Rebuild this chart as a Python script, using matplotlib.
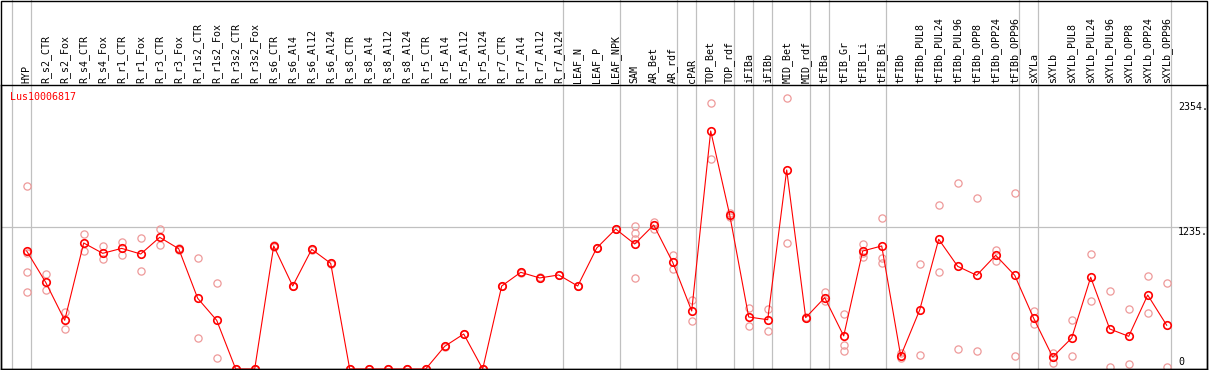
import matplotlib
matplotlib.use("Agg")
import matplotlib.pyplot as plt
from matplotlib.patches import Rectangle

labels = ["HYP", "R_s2_CTR", "R_s2_Fox", "R_s4_CTR", "R_s4_Fox", "R_r1_CTR", "R_r1_Fox",
          "R_r3_CTR", "R_r3_Fox", "R_r1s2_CTR", "R_r1s2_Fox", "R_r3s2_CTR", "R_r3s2_Fox",
          "R_s6_CTR", "R_s6_Al4", "R_s6_Al12", "R_s6_Al24", "R_s8_CTR", "R_s8_Al4",
          "R_s8_Al12", "R_s8_Al24", "R_r5_CTR", "R_r5_Al4", "R_r5_Al12", "R_r5_Al24",
          "R_r7_CTR", "R_r7_Al4", "R_r7_Al12", "R_r7_Al24", "LEAF_N", "LEAF_P", "LEAF_NPK",
          "SAM", "AR_Bet", "AR_rdf", "cPAR", "TOP_Bet", "TOP_rdf", "iFIBa", "iFIBb",
          "MID_Bet", "MID_rdf", "tFIBa", "tFIB_Gr", "tFIB_Li", "tFIB_Bi", "tFIBb",
          "tFIBb_PUL8", "tFIBb_PUL24", "tFIBb_PUL96", "tFIBb_OPP8", "tFIBb_OPP24",
          "tFIBb_OPP96", "sXYLa", "sXYLb", "sXYLb_PUL8", "sXYLb_PUL24", "sXYLb_PUL96",
          "sXYLb_OPP8", "sXYLb_OPP24", "sXYLb_OPP96"]

means = [1025, 753, 423, 1095, 1005, 1048, 999, 1144, 1045, 614, 423, 0, 0,
         1069, 721, 1040, 918, 0, 0, 0, 0, 0, 197, 304, 0, 721, 840, 791, 817,
         721, 1051, 1216, 1086, 1251, 927, 504, 2068, 1338, 452, 428, 1729, 446,
         620, 287, 1025, 1069, 113, 513, 1127, 892, 814, 988, 814, 440, 104, 269,
         797, 348, 284, 643, 380]

replicates = [
    [1590, 1005, 840, 666], [825, 689], [495, 350], [1173, 1022], [1069, 953],
    [1103, 988], [1135, 848], [1216, 1074], [1055, 1035], [962, 266], [744, 96],
    [0, 0], [0, 0], [1075, 1063], [725, 717], [1045, 1035], [922, 914],
    [0, 0], [0, 0], [0, 0], [0, 0], [0, 0], [200, 194], [308, 300], [0, 0],
    [725, 717], [844, 836], [795, 787], [821, 813], [725, 717], [1055, 1047],
    [1220, 1212], [1242, 1184, 1132, 791], [1277, 1214], [990, 866], [599, 414],
    [2308, 1824], [1358, 1318], [527, 374], [521, 327], [2352, 1092], [452, 440],
    [666, 590], [475, 206, 156], [1086, 1005, 976], [1312, 962, 924], [139, 92],
    [910, 119], [1422, 840], [1613, 171], [1483, 154], [1034, 938], [1527, 110],
    [504, 388], [142, 55], [426, 110], [997, 588], [675, 15], [519, 41],
    [805, 484], [745, 15],
]

group_ends = [-1, 0, 28, 31, 34, 35, 37, 38, 39, 41, 42, 45, 52, 53, 60]
gene = "Lus10006817"
tick_values = ["2354.", "1235.", "0"]
ref_line = 1235

W, H = 1209, 370
fig = plt.figure(figsize=(W / 100, H / 100), dpi=100)
# plot region in pixels: x 1..1207, y 85..369 (top-down)
ax = fig.add_axes([1 / W, (H - 369) / H, 1206 / W, 284 / H])
ax.set_xlim((1 - 26.7) / 19, (1207 - 26.7) / 19)
ax.set_ylim(0, 284 / 0.1151)
ax.set_xticks([])
ax.set_yticks([])
for s in ax.spines.values():
    s.set_color("black")
    s.set_linewidth(1.0)

grey = "#c0c0c0"
top_frac = 369 / 284
for g in group_ends:
    ax.axvline(g + 4 / 19, ymin=0, ymax=top_frac, color=grey, lw=0.9, clip_on=False, zorder=1)
ax.axhline(ref_line, color=grey, lw=0.9, zorder=1)

# outer frame
fig.add_artist(Rectangle((1 / W, (H - 369) / H), 1206 / W, 368.5 / H,
                         transform=fig.transFigure, fill=False, ec="black", lw=1.0))

mono = "DejaVu Sans Mono"
xt = ax.get_xaxis_transform()
for i, lab in enumerate(labels):
    ax.text(i, 1 + 2 / 284, lab, rotation=90, ha="center", va="bottom",
            fontsize=7.2, family=mono, transform=xt, clip_on=False)

x = list(range(len(means)))
for i, reps in enumerate(replicates):
    ax.plot([i] * len(reps), reps, linestyle="none", marker="o", ms=5.2,
            mfc="none", mec="#ee9a9a", mew=0.9, clip_on=False, zorder=2)
ax.plot(x, means, color="red", lw=0.8, marker="o", ms=5.4, mfc="none",
        mec="red", mew=1.2, clip_on=False, zorder=3)

ax.text(9 / 1206, (369 - 92) / 284, gene, color="red", fontsize=7.2, family=mono,
        ha="left", va="top", transform=ax.transAxes)

for lab, ypx in zip(tick_values, [107, 232, 362]):
    ax.text((1178 - 1) / 1206, (369 - ypx) / 284, lab, fontsize=7.2, family=mono,
            ha="left", va="center", transform=ax.transAxes)

fig.savefig("out.png", dpi=100)
